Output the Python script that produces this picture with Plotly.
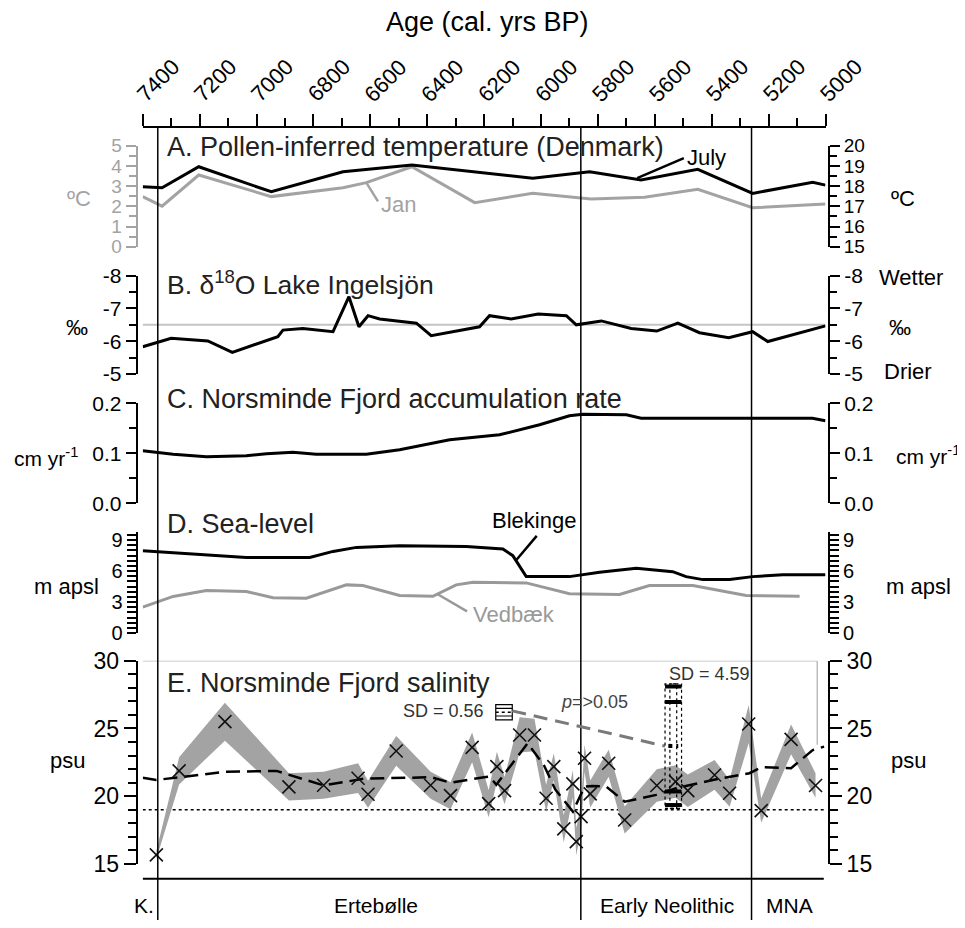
import plotly.graph_objects as go

# ---------------- DATA ----------------
age_ticks = [7400, 7200, 7000, 6800, 6600, 6400, 6200, 6000, 5800, 5600, 5400, 5200, 5000]

# A. Pollen-inferred temperature
jan_years = [7400, 7332, 7203, 6948, 6696, 6614, 6454, 6233, 6029, 5824, 5636, 5449, 5256, 5000]
jan_vals = [2.48, 2.01, 3.55, 2.48, 2.92, 3.17, 3.96, 2.18, 2.64, 2.36, 2.45, 2.84, 1.93, 2.11]
july_years = [7400, 7332, 7203, 6948, 6696, 6454, 6029, 5829, 5648, 5449, 5256, 5045, 5000]
july_vals = [17.97, 17.92, 18.96, 17.72, 18.71, 19.04, 18.39, 18.71, 18.30, 18.83, 17.64, 18.19, 18.05]

# B. d18O Lake Ingelsjon
b_years = [7400, 7300, 7171, 7085, 6925, 6907, 6837, 6731, 6675, 6640, 6608, 6567, 6438, 6386,
           6216, 6181, 6105, 6010, 5911, 5876, 5788, 5683, 5593, 5519, 5443, 5340, 5256, 5203, 5000]
b_vals = [-5.83, -6.09, -6.01, -5.66, -6.14, -6.34, -6.39, -6.29, -7.36, -6.44, -6.78, -6.68, -6.55, -6.17,
          -6.44, -6.78, -6.68, -6.83, -6.78, -6.50, -6.62, -6.39, -6.31, -6.55, -6.26, -6.11, -6.29, -5.99, -6.47]
b_ticks = [-8, -7, -6, -5]
b_ticklabels = ["-8", "-7", "-6", "-5"]
b_reference = -6.5

# C. Norsminde Fjord accumulation rate
c_years = [7400, 7352, 7293, 7176, 7036, 6965, 6872, 6790, 6614, 6497, 6321, 6146, 6005, 5900,
           5853, 5700, 5648, 5466, 5046, 5000]
c_vals = [0.105, 0.102, 0.098, 0.093, 0.095, 0.099, 0.102, 0.098, 0.098, 0.107, 0.127, 0.137, 0.157, 0.175,
          0.178, 0.177, 0.170, 0.170, 0.170, 0.165]

# D. Sea-level
blek_years = [7400, 7259, 7036, 6813, 6731, 6649, 6497, 6263, 6134, 6099, 6052, 5900, 5794, 5665,
              5537, 5490, 5431, 5337, 5256, 5150, 5000]
blek_vals = [7.97, 7.74, 7.32, 7.32, 7.90, 8.29, 8.45, 8.38, 8.13, 7.49, 5.46, 5.46, 5.88, 6.26,
             5.94, 5.46, 5.17, 5.17, 5.46, 5.65, 5.65]
ved_years = [7400, 7293, 7176, 7036, 6942, 6825, 6684, 6626, 6497, 6380, 6298, 6239, 6052, 5900,
             5724, 5619, 5466, 5279, 5091]
ved_vals = [2.50, 3.54, 4.11, 4.02, 3.41, 3.37, 4.66, 4.60, 3.63, 3.56, 4.66, 4.91, 4.85, 3.80,
            3.73, 4.60, 4.60, 3.63, 3.56]

# E. Norsminde Fjord salinity
e_years = [7352, 7272, 7111, 6886, 6764, 6643, 6608, 6509, 6388, 6318, 6242, 6184, 6155, 6128,
           6075, 6023, 5982, 5955, 5920, 5888, 5876, 5859, 5847, 5827, 5762, 5706, 5593, 5527,
           5484, 5390, 5337, 5270, 5226, 5121, 5035]
e_vals = [15.67, 21.87, 25.50, 20.69, 20.81, 21.33, 20.15, 23.34, 20.81, 20.04, 23.61, 19.45, 22.18, 20.41,
          24.52, 24.52, 19.85, 22.18, 17.59, 20.91, 16.65, 18.50, 22.80, 20.17, 22.43, 18.25, 20.79, 21.08,
          20.41, 21.57, 20.22, 25.33, 18.94, 24.20, 20.79]
e_err = [0.3, 1.0, 1.4, 1.0, 1.0, 1.1, 1.0, 1.1, 1.0, 1.0, 1.1, 1.0, 1.1, 1.0,
         1.3, 1.2, 1.0, 1.0, 1.0, 1.0, 1.0, 1.0, 1.0, 1.0, 1.0, 1.0, 1.2, 1.2,
         1.2, 1.1, 1.0, 1.4, 0.9, 1.1, 0.9]
trend_years = [7400, 7352, 7111, 6930, 6764, 6620, 6385, 6318, 6200, 6181, 6157, 6047, 5990, 5950,
               5888, 5847, 5820, 5770, 5706, 5595, 5525, 5396, 5267, 5226, 5121, 5045, 5005]
trend_vals = [21.37, 21.20, 21.80, 21.87, 20.80, 21.30, 21.40, 21.00, 21.40, 21.45, 20.85, 23.90, 22.30, 20.50,
              18.87, 20.70, 20.76, 20.70, 19.60, 20.10, 20.60, 21.20, 21.70, 22.14, 22.07, 23.40, 23.66]
salinity_threshold = 19
sd_years = [6130, 5535]
sd_means = [26.2, 23.7]
sd_values = [0.56, 4.59]
sd_labels = ["SD = 0.56", "SD = 4.59"]
big_box_bars = [28.1, 26.95, 20.35, 19.35]

# periods
period_bounds = [7347, 5860, 5260]
period_names = ["K.", "Ertebølle", "Early Neolithic", "MNA"]
period_label_years = [7395, 6579, 5556, 5127]

# ---------------- LAYOUT HELPERS ----------------
OFF = 8                      # page body margin offset
W, H = 965 - OFF, 928 - OFF
FONT = "Liberation Sans, Arial, Helvetica, sans-serif"


def fx(p):
    return (p - OFF) / W


def fy(p):
    return 1 - (p - OFF) / H


X_LEFT, X_RIGHT = fx(142.7), fx(825.5)
YPOS_L, YPOS_R = fx(136.7), fx(829)

dom_A = [fy(246.7), fy(145.7)]
dom_B = [fy(374), fy(275.7)]
dom_C = [fy(503.3), fy(403.3)]
dom_D = [fy(633), fy(531.8)]
dom_E = [fy(864), fy(660.7)]

fig = go.Figure()


def line_trace(x, y, ax, color="black", width=3, dash=None):
    fig.add_trace(go.Scatter(x=x, y=y, yaxis=ax, mode="lines",
                             line=dict(color=color, width=width, dash=dash),
                             showlegend=False, hoverinfo="skip"))


def dummy(ax, yv):
    fig.add_trace(go.Scatter(x=[age_ticks[0]], y=[yv], yaxis=ax, mode="markers",
                             marker=dict(opacity=0), showlegend=False, hoverinfo="skip"))


# A
line_trace(jan_years, jan_vals, "y", color="#a3a3a3")
line_trace(july_years, july_vals, "y2")
# B
line_trace(b_years, b_vals, "y3")
dummy("y4", -6)
# C
line_trace(c_years, c_vals, "y5")
dummy("y6", 0.1)
# D
line_trace(ved_years, ved_vals, "y7", color="#999999")
line_trace(blek_years, blek_vals, "y7")
dummy("y8", 3)
# E band
upper = [v + e for v, e in zip(e_vals, e_err)]
lower = [v - e for v, e in zip(e_vals, e_err)]
fig.add_trace(go.Scatter(x=e_years + e_years[::-1], y=upper + lower[::-1], yaxis="y9",
                         mode="lines", fill="toself", fillcolor="#a3a3a3",
                         line=dict(width=0, color="#a3a3a3"), showlegend=False, hoverinfo="skip"))
line_trace(trend_years, trend_vals, "y9", width=2.5, dash="14px,7px")
fig.add_trace(go.Scatter(x=e_years, y=e_vals, yaxis="y9", mode="markers",
                         marker=dict(symbol="x-thin", size=13, line=dict(width=1.6, color="#111")),
                         showlegend=False, hoverinfo="skip"))
dummy("y10", 20)


def yax(domain=None, rng=None, side="left", overlay=None, tickvals=None, ticktext=None, minor_dt=None,
        fsize=19, color="black", fmt=None, ticklen=10, minorlen=7):
    d = dict(range=rng, anchor="free", position=YPOS_L if side == "left" else YPOS_R,
             side=side, showline=True, linewidth=2, linecolor=color, automargin=False,
             ticks="outside", ticklen=ticklen, tickwidth=2, tickcolor=color,
             tickmode="array", tickvals=tickvals,
             tickfont=dict(size=fsize, color=color, family=FONT),
             showgrid=False, zeroline=False, fixedrange=True)
    if ticktext:
        d["ticktext"] = ticktext
    if fmt:
        d["tickformat"] = fmt
    if minor_dt:
        d["minor"] = dict(dtick=minor_dt, tick0=rng[0] if rng[0] < rng[1] else rng[1],
                          ticks="outside", ticklen=minorlen, tickwidth=2, tickcolor=color,
                          showgrid=False)
    if overlay:
        d["overlaying"] = overlay
    else:
        d["domain"] = domain
    return d


fig.update_layout(
    width=W, height=H, autosize=False,
    margin=dict(l=0, r=0, t=0, b=0, pad=0),
    paper_bgcolor="white", plot_bgcolor="white",
    font=dict(family=FONT, color="black"),
    xaxis=dict(domain=[X_LEFT, X_RIGHT], range=[7400, 5000], side="top", anchor="free",
               position=fy(126.7), showline=True, linewidth=2, linecolor="black", automargin=False,
               ticks="outside", ticklen=12, tickwidth=2, tickcolor="black",
               tickmode="array", tickvals=age_ticks, showticklabels=False,
               minor=dict(dtick=100, tick0=5000, ticks="outside", ticklen=8, tickwidth=2,
                          tickcolor="black", showgrid=False),
               showgrid=False, zeroline=False, fixedrange=True),
    yaxis=yax(dom_A, [0, 5], tickvals=[0, 1, 2, 3, 4, 5], minor_dt=0.5, fsize=19, color="#a3a3a3"),
    yaxis2=yax(None, [15, 20], side="right", overlay="y", tickvals=[15, 16, 17, 18, 19, 20],
               minor_dt=0.5, fsize=19),
    yaxis3=yax(dom_B, [-5, -8], tickvals=b_ticks, ticktext=b_ticklabels, minor_dt=0.5, fsize=21),
    yaxis4=yax(None, [-5, -8], side="right", overlay="y3", tickvals=b_ticks, ticktext=b_ticklabels,
               minor_dt=0.5, fsize=21),
    yaxis5=yax(dom_C, [0, 0.2], tickvals=[0, 0.1, 0.2], minor_dt=0.05, fsize=21, fmt=".1f"),
    yaxis6=yax(None, [0, 0.2], side="right", overlay="y5", tickvals=[0, 0.1, 0.2],
               minor_dt=0.05, fsize=21, fmt=".1f"),
    yaxis7=yax(dom_D, [0, 9.8], tickvals=[0, 3, 6, 9], minor_dt=0.5, fsize=20, ticklen=9, minorlen=9),
    yaxis8=yax(None, [0, 9.8], side="right", overlay="y7", tickvals=[0, 3, 6, 9],
               minor_dt=0.5, fsize=20, ticklen=9, minorlen=9),
    yaxis9=yax(dom_E, [15, 30], tickvals=[15, 20, 25, 30], minor_dt=1, fsize=23, ticklen=12, minorlen=8),
    yaxis10=yax(None, [15, 30], side="right", overlay="y9", tickvals=[15, 20, 25, 30],
                minor_dt=1, fsize=23, ticklen=12, minorlen=8),
)

shapes = []
# period boundary lines
for yr in period_bounds:
    shapes.append(dict(type="line", xref="x", yref="paper", x0=yr, x1=yr, y0=fy(920), y1=fy(126.7),
                       line=dict(color="black", width=1.5)))
# bottom line
shapes.append(dict(type="line", xref="x", yref="paper", x0=age_ticks[0], x1=5006, y0=fy(878.7), y1=fy(878.7),
                   line=dict(color="black", width=2)))
# B reference line
shapes.append(dict(type="line", xref="x", yref="y3", x0=age_ticks[0], x1=age_ticks[-1], y0=b_reference,
                   y1=b_reference, line=dict(color="#c4c4c4", width=2), layer="below"))
# E threshold dotted
shapes.append(dict(type="line", xref="x", yref="y9", x0=age_ticks[0], x1=age_ticks[-1], y0=salinity_threshold,
                   y1=salinity_threshold, line=dict(color="black", width=1.5, dash="dot"), layer="below"))
# E grey frame
shapes.append(dict(type="line", xref="x", yref="y9", x0=age_ticks[0], x1=5029, y0=30, y1=30,
                   line=dict(color="#bdbdbd", width=1.5), layer="below"))
shapes.append(dict(type="line", xref="x", yref="y9", x0=5029, x1=5029, y0=30, y1=23.8,
                   line=dict(color="#bdbdbd", width=1.5), layer="below"))

# SD boxes
hw = 29
s_yr, s_m, s_sd = sd_years[0], sd_means[0], sd_values[0]
shapes.append(dict(type="rect", xref="x", yref="y9", x0=s_yr + hw, x1=s_yr - hw, y0=s_m - s_sd, y1=s_m + s_sd,
                   line=dict(color="black", width=1.2), fillcolor="white"))
for k in (-0.5, 0.5):
    shapes.append(dict(type="line", xref="x", yref="y9", x0=s_yr + hw, x1=s_yr - hw,
                       y0=s_m + k * s_sd, y1=s_m + k * s_sd, line=dict(color="black", width=1.2)))
shapes.append(dict(type="line", xref="x", yref="y9", x0=s_yr + hw, x1=s_yr - hw, y0=s_m, y1=s_m,
                   line=dict(color="black", width=1.5, dash="dot")))
# connecting dashed grey line
b_yr, b_m, b_sd = sd_years[1], sd_means[1], sd_values[1]
shapes.append(dict(type="line", xref="x", yref="y9", x0=s_yr - hw, x1=b_yr + hw, y0=s_m + 0.1, y1=b_m,
                   line=dict(color="#7a7a7a", width=3, dash="14px,8px")))
# big box
shapes.append(dict(type="rect", xref="x", yref="y9", x0=b_yr + hw, x1=b_yr - hw, y0=b_m - b_sd, y1=b_m + b_sd,
                   line=dict(color="black", width=1.2, dash="dot")))
shapes.append(dict(type="rect", xref="x", yref="y9", x0=b_yr + 12, x1=b_yr - 12, y0=b_m - b_sd, y1=b_m + b_sd,
                   line=dict(color="black", width=1.2, dash="dot")))
for lv in big_box_bars:
    shapes.append(dict(type="line", xref="x", yref="y9", x0=b_yr + hw, x1=b_yr - hw, y0=lv, y1=lv,
                       line=dict(color="black", width=4)))
shapes.append(dict(type="line", xref="x", yref="y9", x0=b_yr + hw * 0.6, x1=b_yr - hw * 0.6, y0=b_m, y1=b_m,
                   line=dict(color="black", width=4, dash="dot")))

# leader lines
shapes.append(dict(type="line", xref="x", yref="y2", x0=5662, x1=5498, y0=18.39, y1=19.38,
                   line=dict(color="black", width=2.5)))
shapes.append(dict(type="line", xref="x", yref="y", x0=6614, x1=6573, y0=3.17, y1=2.24,
                   line=dict(color="#a3a3a3", width=2.5)))
shapes.append(dict(type="line", xref="x", yref="y7", x0=6089, x1=6015, y0=7.0, y1=9.4,
                   line=dict(color="black", width=2.5)))
shapes.append(dict(type="line", xref="x", yref="y7", x0=6366, x1=6260, y0=3.8, y1=2.1,
                   line=dict(color="#999999", width=2.5)))
fig.update_layout(shapes=shapes)

ann = []


def text(x, y, s, size=22, color="black", xanchor="center", xref="paper", yref="paper"):
    ann.append(dict(x=x, y=y, xref=xref, yref=yref, text=s, showarrow=False, xanchor=xanchor,
                    yanchor="middle", font=dict(size=size, color=color, family=FONT)))


# top axis tick labels (rotated)
for t in age_ticks:
    ann.append(dict(x=t, y=fy(80.8), xref="x", yref="paper", text=str(t), showarrow=False,
                    xanchor="center", yanchor="middle", xshift=15.6, textangle=-45,
                    font=dict(size=22, family=FONT, color="black")))

text(fx(487), fy(22), "Age (cal. yrs BP)", size=27)
text(fx(165), fy(147), "A. Pollen-inferred temperature (Denmark)", size=27, xanchor="left", color="#222")
text(fx(165), fy(283), "B. δ<sup>18</sup>O Lake Ingelsjön", size=26.5, xanchor="left", color="#222")
text(fx(165), fy(399), "C. Norsminde Fjord accumulation rate", size=27, xanchor="left", color="#222")
text(fx(165), fy(524), "D. Sea-level", size=27, xanchor="left", color="#222")
text(fx(165), fy(683), "E. Norsminde Fjord salinity", size=27, xanchor="left", color="#222")

# unit labels
text(fx(79), fy(199), "ºC", size=22, color="#a3a3a3")
text(fx(903), fy(199), "ºC", size=22)
text(fx(77), fy(327), "‰", size=22)
text(fx(900), fy(327), "‰", size=22)
text(fx(911), fy(277), "Wetter", size=22)
text(fx(908), fy(372), "Drier", size=22)
text(fx(46), fy(457), "cm yr<sup>-1</sup>", size=21)
text(fx(928), fy(455), "cm yr<sup>-1</sup>", size=21)
text(fx(66), fy(586), "m apsl", size=22)
text(fx(918), fy(586), "m apsl", size=22)
text(fx(68), fy(760), "psu", size=22)
text(fx(908), fy(760), "psu", size=22)

# series labels
text(fx(398), fy(204), "Jan", size=22, color="#a3a3a3")
text(fx(706), fy(157), "July", size=22)
text(fx(534), fy(520), "Blekinge", size=22)
text(fx(514), fy(614), "Vedbæk", size=22, color="#999999")

# SD labels
text(fx(443), fy(711), sd_labels[0], size=18, color="#333")
text(fx(709), fy(674), sd_labels[1], size=18, color="#333")
text(fx(594), fy(702), "<i>p</i>=>0.05", size=18, color="#444")

# period labels
for nm, yr in zip(period_names, period_label_years):
    ann.append(dict(x=yr, y=fy(905), xref="x", yref="paper", text=nm, showarrow=False,
                    xanchor="center", yanchor="middle", font=dict(size=21, family=FONT, color="black")))

fig.update_layout(annotations=ann)
fig.write_html("out.html")
